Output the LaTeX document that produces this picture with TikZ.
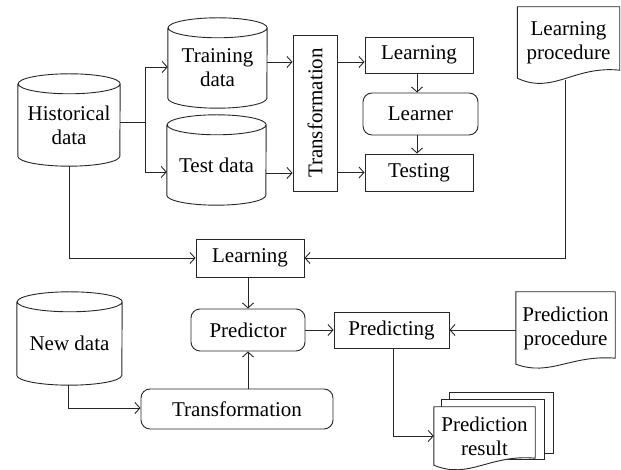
\documentclass[tikz,border=0pt]{standalone}
\usepackage{fontspec}
\setmainfont{Liberation Serif}
\usepackage{graphicx}
\usetikzlibrary{arrows.meta,calc}
\pgfdeclarelayer{bg}
\pgfsetlayers{bg,main}
\tikzset{
  every node/.style={font=\fontsize{21}{24}\selectfont, inner sep=0pt, align=center},
  ln/.style={line width=0.9pt, draw=black!85},
  blk/.style={ln, draw, rectangle},
  rbox/.style={ln, draw, rectangle, rounded corners=9pt},
  store/.style={rectangle, draw=none},
  docn/.style={rectangle, draw=none},
  arr/.style={ln, -{Straight Barb[length=5pt,width=11pt]}},
}
\newcommand{\cylout}[2]{%
  \draw[ln] (#1.north west) -- ([yshift=10pt]#1.south west)
    arc[start angle=180,end angle=360,x radius=#2pt,y radius=10pt]
    -- (#1.north east)
    arc[start angle=0,end angle=360,x radius=#2pt,y radius=10pt];}
\newcommand{\docout}[4][]{%
  \draw[ln,#1] (#2.south west) .. controls +({0.35*#3},{-2.1*#4}) and +({-0.45*#3},{0.6*#4}) ..
    ([yshift=#4pt]#2.south east) -- (#2.north east) -- (#2.north west) -- cycle;}
\begin{document}
\begin{tikzpicture}[x=1pt,y=1pt]
\useasboundingbox (0,0) rectangle (621,470);
% data stores
\node[store, minimum width=102, minimum height=82] (hist) at (69,345) {Historical\\data};
\node[store, minimum width=99, minimum height=80] (train) at (217.5,402) {Training\\data};
\node[store, minimum width=99, minimum height=80] (test) at (216.5,305) {Test data};
\node[store, minimum width=105, minimum height=83] (new) at (69.5,126.5) {New data};
\cylout{hist}{51}
\cylout{train}{49.5}
\cylout{test}{49.5}
\cylout{new}{52.5}
% process boxes
\node[blk, minimum width=44, minimum height=156] (tr) at (315,357) {\rotatebox{90}{Transformation}};
\node[blk, minimum width=108, minimum height=36] (learn1) at (419,415) {Learning};
\node[rbox, minimum width=115, minimum height=42] (learner) at (420.5,356) {Learner};
\node[blk, minimum width=108, minimum height=37] (testing) at (419,297.5) {Testing};
\node[blk, minimum width=108, minimum height=38] (learn2) at (250,212) {Learning};
\node[rbox, minimum width=114, minimum height=42] (predictor) at (248,140) {Predictor};
\node[rbox, minimum width=192, minimum height=40] (trans2) at (237,61) {Transformation};
\node[blk, minimum width=115, minimum height=36] (predicting) at (391.5,140) {Predicting};
% documents
\node[docn, minimum width=102, minimum height=71] (lproc) at (568.5,427.5) {Learning\\procedure};
\node[docn, minimum width=99, minimum height=72] (pproc) at (565.5,142) {Prediction\\procedure};
\node[docn, minimum width=101, minimum height=58] (presult) at (484.5,34) {Prediction\\result};
\docout{lproc}{102}{8}
\docout{pproc}{99}{6}
\begin{pgfonlayer}{bg}
  \draw[ln, fill=white] ([shift={(16,14)}]presult.north west) rectangle ([shift={(18,12)}]presult.south east);
  \draw[ln, fill=white] ([shift={(8,7)}]presult.north west) rectangle ([shift={(9,6)}]presult.south east);
  \docout[fill=white]{presult}{101}{7}
\end{pgfonlayer}
% connectors
\coordinate (s1) at (145,348);
\draw[ln] ([yshift=3pt]hist.east) -- (s1);
\draw[arr] (s1) |- ([yshift=1pt]train.west);
\draw[arr] (s1) |- ([yshift=-7pt]test.west);
\draw[arr] ([yshift=6pt]train.east) -- ([yshift=6pt]train.east -| tr.west);
\draw[arr] ([yshift=-8pt]test.east) -- ([yshift=-8pt]test.east -| tr.west);
\draw[arr] ([yshift=6pt]train.east -| tr.east) -- ([yshift=6pt]train.east -| learn1.west);
\draw[arr] (tr.east |- testing.west) -- (testing.west);
\draw[arr] ([xshift=-2pt]learn1.south) -- ([xshift=-2pt]learn1.south |- learner.north);
\draw[arr] ([xshift=-2pt]learn1.south |- learner.south) -- ([xshift=-2pt]learn1.south |- testing.north);
\draw[arr] (hist.south) |- (learn2.west);
\draw[arr] ([xshift=-3.5pt,yshift=-2pt]lproc.south) |- (learn2.east);
\draw[arr] (predictor.north |- learn2.south) -- (predictor.north);
\draw[arr] (predictor.south |- trans2.north) -- (predictor.south);
\draw[arr] ([xshift=-1.5pt]new.south) |- ([yshift=1pt]trans2.west);
\draw[arr] (predictor.east) -- (predicting.west);
\draw[arr] (pproc.west |- predicting.east) -- (predicting.east);
\draw[arr] ([xshift=1.5pt]predicting.south) |- (presult.west);
\end{tikzpicture}
\end{document}
